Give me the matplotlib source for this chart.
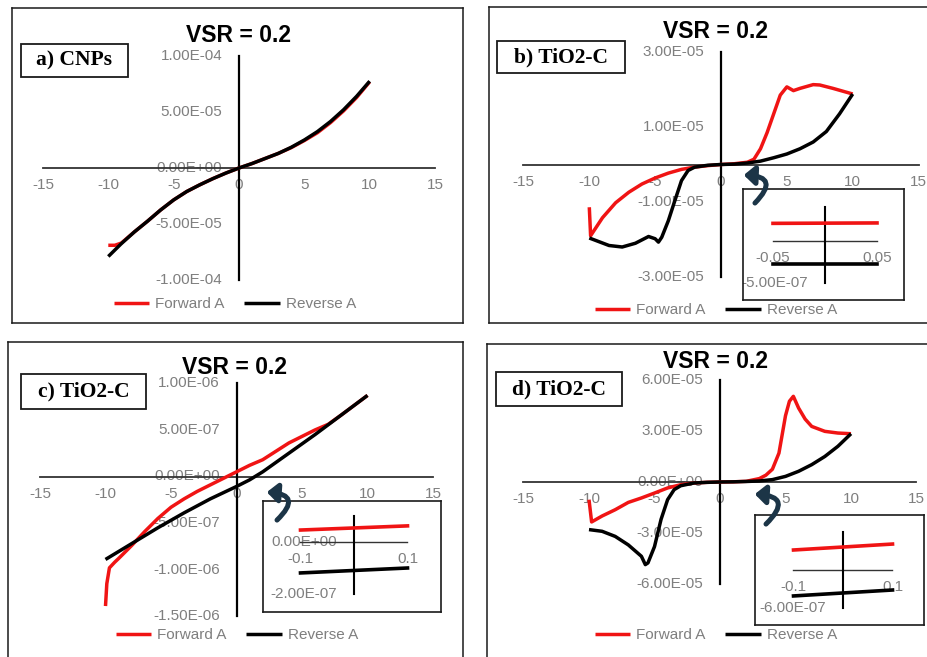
import matplotlib
matplotlib.use('Agg')
import matplotlib.pyplot as plt
from matplotlib.patches import Rectangle, FancyArrowPatch

# ---- a) CNPs  (current in A)
a_fwd_v = [-10, -9.5, -9, -8, -7, -6, -5, -4, -3, -2, -1, 0, 1, 2, 3, 4, 5, 6, 7, 8, 9, 10]
a_fwd_i = [-6.9e-5, -6.9e-5, -6.7e-5, -5.7e-5, -4.75e-5, -3.75e-5, -2.85e-5, -2.1e-5, -1.5e-5,
           -0.95e-5, -0.45e-5, 0, 0.4e-5, 0.85e-5, 1.3e-5, 1.82e-5, 2.45e-5, 3.15e-5, 4.05e-5,
           5.1e-5, 6.3e-5, 7.7e-5]
a_rev_v = [-10, -9, -8, -7, -6, -5, -4, -3, -2, -1, 0, 1, 2, 3, 4, 5, 6, 7, 8, 9, 10]
a_rev_i = [-7.9e-5, -6.75e-5, -5.7e-5, -4.75e-5, -3.75e-5, -2.85e-5, -2.1e-5, -1.5e-5, -0.95e-5,
           -0.45e-5, 0, 0.4e-5, 0.85e-5, 1.3e-5, 1.85e-5, 2.5e-5, 3.25e-5, 4.15e-5, 5.2e-5,
           6.4e-5, 7.75e-5]

# ---- b) TiO2-C
b_fwd_v = [-10, -9.9, -9, -8, -7, -6, -5, -4, -3, -2, -1, 0, 1, 2, 2.5, 3, 3.5, 4, 4.5, 5,
           5.5, 6, 7, 7.5, 8.5, 10]
b_fwd_i = [-1.14e-5, -1.9e-5, -1.42e-5, -1.02e-5, -0.74e-5, -0.52e-5, -0.36e-5, -0.23e-5,
           -0.13e-5, -0.07e-5, -0.03e-5, 0, 0.02e-5, 0.06e-5, 0.14e-5, 0.42e-5, 0.85e-5,
           1.35e-5, 1.85e-5, 2.07e-5, 1.97e-5, 2.03e-5, 2.13e-5, 2.12e-5, 2.03e-5, 1.88e-5]
b_rev_v = [-10, -8.5, -7.5, -6.5, -5.5, -5, -4.75, -4.5, -4, -3.5, -3, -2.5, -2, -1, 0, 1, 2,
           3, 4, 5, 6, 7, 8, 9, 10]
b_rev_i = [-1.96e-5, -2.16e-5, -2.2e-5, -2.1e-5, -1.92e-5, -1.98e-5, -2.07e-5, -1.94e-5,
           -1.5e-5, -0.96e-5, -0.43e-5, -0.16e-5, -0.07e-5, -0.02e-5, 0, 0.01e-5, 0.04e-5,
           0.09e-5, 0.18e-5, 0.28e-5, 0.42e-5, 0.6e-5, 0.88e-5, 1.35e-5, 1.88e-5]
b_in_v = [-0.05, 0.05]
b_in_fwd = [2.1e-7, 2.15e-7]
b_in_rev = [-2.7e-7, -2.7e-7]

# ---- c) TiO2-C
c_fwd_v = [-10, -9.9, -9.7, -9.3, -9, -8, -7, -6, -5, -4, -3, -2, -1, 0, 1, 2, 3, 4, 5, 6,
           7, 8, 9, 10]
c_fwd_i = [-13.9e-7, -11.5e-7, -9.8e-7, -9.2e-7, -8.8e-7, -7.4e-7, -5.9e-7, -4.5e-7, -3.3e-7,
           -2.4e-7, -1.6e-7, -0.9e-7, -0.2e-7, 0.5e-7, 1.2e-7, 1.8e-7, 2.7e-7, 3.6e-7, 4.3e-7,
           5.0e-7, 5.6e-7, 6.6e-7, 7.65e-7, 8.7e-7]
c_rev_v = [-10, -8, -6, -4, -2, 0, 1, 2, 4, 6, 8, 10]
c_rev_i = [-8.9e-7, -7.2e-7, -5.5e-7, -3.9e-7, -2.4e-7, -1.07e-7, -0.36e-7, 0.5e-7, 2.5e-7,
           4.5e-7, 6.6e-7, 8.7e-7]
c_in_v = [-0.1, 0.1]
c_in_fwd = [0.46e-7, 0.62e-7]
c_in_rev = [-1.19e-7, -1.0e-7]

# ---- d) TiO2-C
d_fwd_v = [-10, -9.8, -9, -8, -7, -6, -5, -4, -3, -2, -1, 0, 1, 2, 3, 3.5, 4, 4.5, 5, 5.3,
           5.6, 6, 6.5, 7, 8, 9, 10]
d_fwd_i = [-1.04e-5, -2.35e-5, -2.0e-5, -1.63e-5, -1.2e-5, -0.94e-5, -0.65e-5, -0.35e-5,
           -0.16e-5, -0.06e-5, -0.02e-5, 0, 0.01e-5, 0.04e-5, 0.2e-5, 0.4e-5, 0.75e-5,
           1.7e-5, 3.9e-5, 4.75e-5, 5.04e-5, 4.35e-5, 3.7e-5, 3.27e-5, 2.98e-5, 2.88e-5,
           2.84e-5]
d_rev_v = [-10, -9, -8, -7, -6, -5.7, -5.5, -5, -4.5, -4, -3.5, -3, -2, -1, 0, 1, 2, 3, 4, 5,
           6, 7, 8, 9, 10]
d_rev_i = [-2.8e-5, -2.9e-5, -3.2e-5, -3.7e-5, -4.37e-5, -4.86e-5, -4.76e-5, -3.8e-5, -2.2e-5,
           -1.04e-5, -0.45e-5, -0.22e-5, -0.06e-5, -0.02e-5, 0, 0.01e-5, 0.03e-5, 0.06e-5,
           0.14e-5, 0.33e-5, 0.63e-5, 1.02e-5, 1.5e-5, 2.1e-5, 2.84e-5]
d_in_v = [-0.1, 0.1]
d_in_fwd = [3.16e-7, 4.1e-7]
d_in_rev = [-4.1e-7, -3.16e-7]

x_ticks = [-15, -10, -5, 0, 5, 10, 15]
a_yticks = [-1e-4, -5e-5, 0, 5e-5, 1e-4]
b_yticks = [-3e-5, -1e-5, 1e-5, 3e-5]
c_yticks = [-1.5e-6, -1e-6, -5e-7, 0, 5e-7, 1e-6]
d_yticks = [-6e-5, -3e-5, 0, 3e-5, 6e-5]

W, H = 928, 657
RED = '#f01414'
GRAY = '#7f7f7f'
SANS = 'Liberation Sans'
SERIF = 'Liberation Serif'

fig = plt.figure(figsize=(W / 100, H / 100), dpi=100)


def fx(x):
    return x / W


def fy(y):
    return 1 - y / H


def make_axes(box, x0, sx, y0, sy, lw=1.1):
    # box in pixels (left, top, right, bottom); data origin at (x0, y0) px
    l, t, r, b = box
    ax = fig.add_axes([fx(l), fy(b), (r - l) / W, (b - t) / H])
    ax.set_xlim((l - x0) / sx, (r - x0) / sx)
    ax.set_ylim((y0 - b) / sy, (y0 - t) / sy)
    ax.set_xticks([])
    ax.set_yticks([])
    for s in ax.spines.values():
        s.set_linewidth(lw)
        s.set_color('#1a1a1a')
    return ax


def cross_axes(ax, xspan, yspan, xticks, yticks, hlw=1.3, vlw=1.6, clip=False):
    ax.plot(xspan, [0, 0], color='#333333', lw=hlw, zorder=2)
    ax.plot([0, 0], yspan, color='black', lw=vlw, zorder=2)
    for v in xticks:
        ax.annotate(str(v), (v, 0), xytext=(0, -12.5), textcoords='offset points',
                    ha='center', va='center', color=GRAY, fontsize=11, family=SANS,
                    zorder=1, clip_on=clip)
    for v in yticks:
        ax.annotate(f'{v:.2E}', (0, v), xytext=(-12, 0), textcoords='offset points',
                    ha='right', va='center', color=GRAY, fontsize=11, family=SANS,
                    zorder=1, clip_on=clip)


def panel(box, x0, sx, y0, sy, fwd, rev, yticks, tag, tag_box, title_xy, legend_xy):
    ax = make_axes(box, x0, sx, y0, sy)
    cross_axes(ax, [-15, 15], [yticks[0], yticks[-1]], x_ticks, yticks)
    lf, = ax.plot(fwd[0], fwd[1], color=RED, lw=2.5, zorder=3, solid_capstyle='butt')
    lr, = ax.plot(rev[0], rev[1], color='black', lw=2.5, zorder=3, solid_capstyle='butt')
    fig.text(fx(title_xy[0]), fy(title_xy[1]), 'VSR = 0.2', ha='center', va='center',
             fontsize=16.5, fontweight='bold', family=SANS)
    l, t, r, b = tag_box
    fig.add_artist(Rectangle((fx(l), fy(b)), (r - l) / W, (b - t) / H, fill=False,
                             lw=1.3, ec='#1a1a1a', transform=fig.transFigure))
    fig.text(fx((l + r) / 2), fy((t + b) / 2), tag, ha='center', va='center',
             fontsize=15.5, fontweight='bold', family=SERIF)
    ax.legend([lf, lr], ['Forward A', 'Reverse A'], loc='center', ncol=2, frameon=False,
              bbox_to_anchor=(fx(legend_xy[0]), fy(legend_xy[1])),
              bbox_transform=fig.transFigure, prop={'family': SANS, 'size': 11},
              labelcolor=GRAY, handlelength=2.3, handletextpad=0.4, columnspacing=1.3)
    return ax


def inset(box, x0, sx, y0, sy, xv, fwd, rev, yspan, yticks):
    ax = make_axes(box, x0, sx, y0, sy, lw=1.2)
    ax.set_zorder(5)
    cross_axes(ax, xv, yspan, xv, yticks, hlw=1.0, vlw=1.5, clip=True)
    ax.plot(xv, fwd, color=RED, lw=2.6, zorder=3)
    ax.plot(xv, rev, color='black', lw=2.6, zorder=3)


def curl(tail, head):
    # curved pointer from the zoomed box back to the origin of the main plot
    fig.add_artist(FancyArrowPatch((fx(tail[0]), fy(tail[1])), (fx(head[0]), fy(head[1])),
                                   transform=fig.transFigure,
                                   connectionstyle='arc3,rad=1.2',
                                   arrowstyle='-|>,head_length=0.45,head_width=0.4',
                                   mutation_scale=14, lw=3.6, color='#1c3547', zorder=10))


panel((12, 8, 463, 323), 239, 13.07, 168, 112 / 1e-4, (a_fwd_v, a_fwd_i), (a_rev_v, a_rev_i),
      a_yticks, 'a) CNPs', (21, 44, 128, 77), (238, 35), (235, 304))

panel((489, 7, 940, 323), 721, 13.17, 164.5, 37.5 / 1e-5, (b_fwd_v, b_fwd_i), (b_rev_v, b_rev_i),
      b_yticks, 'b) TiO2-C', (497, 41, 625, 73), (716, 32), (716, 310))
inset((743, 189, 904, 300), 825, 1040, 241, 8.4 / 1e-7, b_in_v, b_in_fwd, b_in_rev,
      [-5e-7, 4e-7], [-5e-7])
curl((753, 205), (741, 175))

panel((8, 342, 463, 670), 236.5, 13.1, 476.5, 93.2 / 1e-6, (c_fwd_v, c_fwd_i), (c_rev_v, c_rev_i),
      c_yticks, 'c) TiO2-C', (21, 374, 146, 409), (235, 367), (237, 635))
inset((263, 501, 441, 612), 354, 535, 542, 26 / 1e-7, c_in_v, c_in_fwd, c_in_rev,
      [-2e-7, 1e-7], [-2e-7, 0])
curl((275, 522), (264, 492))

panel((487, 344, 940, 670), 720, 13.1, 482, 17 / 1e-5, (d_fwd_v, d_fwd_i), (d_rev_v, d_rev_i),
      d_yticks, 'd) TiO2-C', (496, 372, 622, 406), (716, 361), (716, 635))
inset((755, 515, 924, 625), 843, 495, 570, 6.33 / 1e-7, d_in_v, d_in_fwd, d_in_rev,
      [-6e-7, 6e-7], [-6e-7])
curl((764, 526), (752, 494))

fig.savefig('out.png', dpi=100)
